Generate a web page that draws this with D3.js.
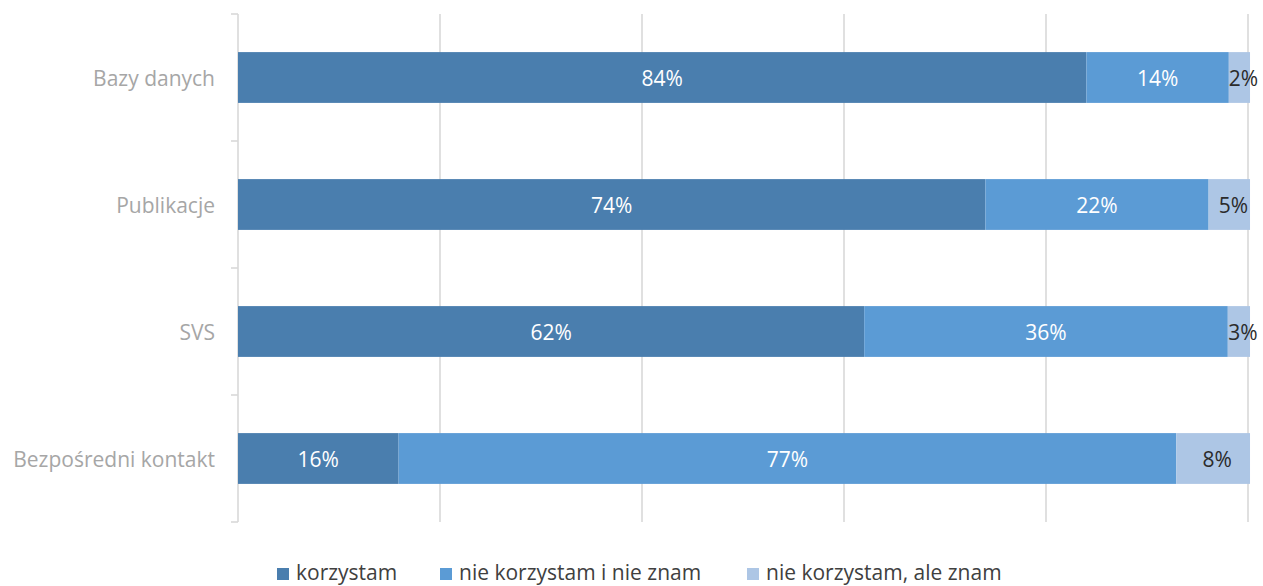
<!DOCTYPE html>
<html><head><meta charset="utf-8">
<script src="https://cdn.jsdelivr.net/npm/d3@7"></script>
<style>body{margin:0;background:#fff}svg{display:block}</style>
</head><body>
<svg id="c" width="1263" height="586"></svg>
<script>
const categories = ["Bazy danych", "Publikacje", "SVS", "Bezpośredni kontakt"];
const seriesNames = ["korzystam", "nie korzystam i nie znam", "nie korzystam, ale znam"];
// bar lengths (percent)
const korzystam = [84.0, 74.0, 62.0, 15.9];
const nieKorzystamNieZnam = [14.1, 22.1, 36.0, 77.0];
const nieKorzystamAleZnam = [2.1, 4.1, 2.2, 7.3];
// printed labels
const labelsKorzystam = ["84%", "74%", "62%", "16%"];
const labelsNieZnam = ["14%", "22%", "36%", "77%"];
const labelsAleZnam = ["2%", "5%", "3%", "8%"];
const xTicks = [0, 20, 40, 60, 80, 100];
const colors = ["#4a7eae", "#5b9bd5", "#adc6e5"];
const labelColors = ["#ffffff", "#ffffff", "#2b2b2b"];
const labelShift = [0, 0, 4];

const series = [korzystam, nieKorzystamNieZnam, nieKorzystamAleZnam];
const labels = [labelsKorzystam, labelsNieZnam, labelsAleZnam];

const svg = d3.select("#c");
const font = "'Open Sans', sans-serif";
const x = d3.scaleLinear().domain([0, 100]).range([238, 1248]);
const y = d3.scaleBand().domain(categories).range([14, 522]).paddingInner(0.6).paddingOuter(0.3);
const step = y.step();

// gridlines
svg.append("g").selectAll("line").data(xTicks.slice(1)).join("line")
  .attr("x1", d => x(d)).attr("x2", d => x(d)).attr("y1", 14).attr("y2", 522)
  .attr("stroke", "#d9d9d9").attr("stroke-width", 1.6);

// category axis
const yAxis = svg.append("g");
yAxis.append("line").attr("x1", x(0)).attr("x2", x(0)).attr("y1", 14).attr("y2", 522)
  .attr("stroke", "#d9d9d9").attr("stroke-width", 1.6);
const bounds = d3.range(categories.length + 1).map(i => 14 + i * step);
yAxis.selectAll("line.t").data(bounds).join("line").attr("class", "t")
  .attr("x1", x(0) - 7).attr("x2", x(0)).attr("y1", d => d).attr("y2", d => d)
  .attr("stroke", "#d9d9d9").attr("stroke-width", 1.6);
yAxis.selectAll("text").data(categories).join("text")
  .attr("x", 215).attr("y", d => y(d) + y.bandwidth() / 2)
  .attr("text-anchor", "end").attr("dominant-baseline", "central")
  .attr("font-family", font).attr("font-size", 21).attr("fill", "#a6a6a6")
  .text(d => d);

// stacked bars
const g = svg.append("g");
categories.forEach((cat, i) => {
  let acc = 0;
  series.forEach((s, k) => {
    const v = s[i];
    const x0 = x(acc), x1 = x(acc + v);
    g.append("rect").attr("x", x0).attr("y", y(cat)).attr("width", x1 - x0)
      .attr("height", y.bandwidth()).attr("fill", colors[k]);
    g.append("text").attr("x", (x0 + x1) / 2 + labelShift[k]).attr("y", y(cat) + y.bandwidth() / 2)
      .attr("text-anchor", "middle").attr("dominant-baseline", "central")
      .attr("font-family", font).attr("font-size", 21).attr("fill", labelColors[k])
      .text(labels[k][i]);
    acc += v;
  });
});

// legend
const legX = [277, 440, 747];
const leg = svg.append("g");
seriesNames.forEach((n, k) => {
  leg.append("rect").attr("x", legX[k]).attr("y", 568).attr("width", 12).attr("height", 12).attr("fill", colors[k]);
  leg.append("text").attr("x", legX[k] + 19).attr("y", 580)
    .attr("font-family", font).attr("font-size", 21).attr("fill", "#404040").text(n);
});
</script>
</body></html>
